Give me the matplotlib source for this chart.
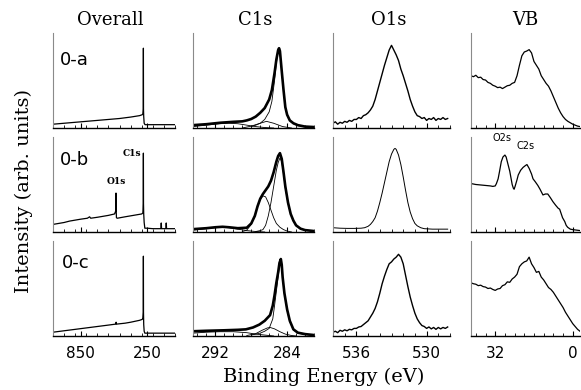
import matplotlib
matplotlib.use("Agg")
import matplotlib.pyplot as plt
from matplotlib.ticker import FixedLocator, MultipleLocator

# ---------------- data (binding energy in eV, intensity in arb. units) -------------
col_titles = ["Overall", "C1s", "O1s", "VB"]
row_labels = ["0-a", "0-b", "0-c"]

# Overall survey spectra
survey_a_be = [1100, 1000, 900, 800, 700, 600, 500, 400, 320, 295, 290, 286, 285, 284, 282, 278, 270, 200, 100, 0]
survey_a_i = [4, 5, 6, 7, 8, 9, 10, 11.5, 13, 14, 15, 20, 84, 20, 12, 5, 3.5, 3.5, 3.5, 3.5]

survey_b_be = [1100, 1050, 1000, 950, 900, 850, 790, 770, 760, 700, 650, 600, 545, 535, 532, 530, 528,
               520, 450, 400, 350, 300, 290, 286, 285, 284, 282, 278, 272, 250, 200, 127, 124, 121,
               82, 79, 76, 0]
survey_b_i = [8, 9, 10, 11.5, 12.5, 13.5, 14.5, 16, 14.5, 15.5, 16.5, 17.5, 19, 22, 41, 22, 15,
              14.5, 16, 17, 18, 19, 20, 30, 83, 30, 19, 10, 4, 4, 3.5, 3.5, 9.5, 3.5,
              3.5, 9.5, 3.5, 3.5]

survey_c_be = [1100, 1000, 900, 800, 700, 600, 535, 531, 528, 450, 400, 320, 295, 290, 286, 285, 284, 282, 278, 272, 0]
survey_c_i = [4, 5.5, 7, 8.5, 10, 11.5, 12.5, 14.5, 12.5, 13.5, 14.5, 16.5, 17.5, 19, 25, 84, 25, 12, 5, 3, 3]

# C1s envelopes and fitted components
c1s_a_be = [294.5, 293, 291.5, 290, 289, 288.5, 288, 287.5, 287, 286.5, 286, 285.7, 285.4, 285.2,
            285.0, 284.9, 284.8, 284.6, 284.4, 284.2, 284.0, 283.7, 283.3, 282.8, 282, 281]
c1s_a_i = [3, 4, 5.5, 6.5, 7, 8, 9.5, 12, 16, 21, 30, 40, 58, 72, 82, 84, 81, 60, 40, 22, 14, 8, 5, 3, 1.5, 1]
c1s_a_main_be = [288, 287.5, 287, 286.5, 286, 285.7, 285.4, 285.2, 285.0, 284.9, 284.8, 284.6, 284.4,
                 284.2, 284.0, 283.7, 283.3, 282.8, 282, 281]
c1s_a_main_i = [1.5, 3, 5, 9, 17, 28, 50, 68, 81, 83, 80, 59, 39, 21, 13.5, 7.5, 4.5, 2.5, 1, 0.5]
c1s_a_c2_be = [289, 288, 287, 286.3, 285.5, 284.5, 283.5]
c1s_a_c2_i = [0, 2, 5, 7, 5, 1.5, 0]
c1s_a_c3_be = [294.5, 293, 291.5, 290.5, 289.5, 288.5, 287.5, 286.5, 285.5]
c1s_a_c3_i = [1.5, 3, 4.5, 5, 4.5, 3, 1.5, 0.5, 0]

c1s_b_be = [294.5, 293, 292, 291.2, 290.5, 289.5, 288.5, 288, 287.6, 287.3, 287.0, 286.7, 286.4, 286.1,
            285.8, 285.5, 285.2, 285.0, 284.8, 284.6, 284.4, 284.2, 283.9, 283.6, 283.3, 283.0, 282.5, 282, 281]
c1s_b_i = [3, 4, 5, 5.5, 5, 4, 4.5, 9, 17, 27, 35, 40, 44, 48, 54, 63, 74, 80, 83, 77, 63, 48, 31, 19, 12, 7,
           3.5, 2, 1]
c1s_b_main_be = [287.5, 287, 286.7, 286.4, 286.1, 285.8, 285.5, 285.2, 285.0, 284.8, 284.6, 284.4, 284.2,
                 283.9, 283.6, 283.3, 283.0, 282.5, 282, 281]
c1s_b_main_i = [0.5, 1.5, 2.5, 7, 17, 31, 48, 65, 73, 78, 74, 61, 46, 30, 18.5, 11.5, 7, 3.5, 2, 1]
c1s_b_c2_be = [289, 288.5, 288, 287.6, 287.3, 287.0, 286.7, 286.4, 286.1, 285.8, 285.5, 285.2, 284.8,
               284.4, 284, 283.5]
c1s_b_c2_i = [0.5, 2, 8, 17, 27, 34, 38, 37, 31, 23, 15, 9, 5, 2.5, 1, 0]
c1s_b_c3_be = [294.5, 293, 292, 291.2, 290.5, 289.5, 288.5, 287.5, 286.5]
c1s_b_c3_i = [2, 3.5, 4.5, 5, 4.5, 3, 1.5, 0.5, 0]

c1s_c_be = [294.5, 293, 291, 289.5, 288.6, 287.8, 287.1, 286.5, 285.9, 285.6, 285.4, 285.2, 285.0,
            284.85, 284.7, 284.6, 284.5, 284.3, 284.0, 283.7, 283.3, 282.8, 282, 281]
c1s_c_i = [5, 5.5, 6, 6.5, 7, 9, 12, 16, 22, 32, 43, 56, 67, 77, 81, 75, 62, 45, 28, 16, 7, 3.5, 2, 1]
c1s_c_main_be = [288, 287, 286.5, 286, 285.6, 285.4, 285.2, 285.0, 284.85, 284.7, 284.6, 284.5, 284.3,
                 284.0, 283.7, 283.3, 282.8, 282, 281]
c1s_c_main_i = [1, 3, 5, 8, 18, 32, 47, 62, 74, 80, 74, 61, 44, 27, 15, 6.5, 3, 1.5, 0.5]
c1s_c_c2_be = [288.5, 287.5, 286.8, 286.2, 285.9, 285.4, 284.8, 284.2, 283.5, 283]
c1s_c_c2_i = [0.5, 2.5, 6, 8.5, 9, 7.5, 4.5, 2, 0.5, 0]
c1s_c_c3_be = [294.5, 293, 291.5, 290, 288.5, 287.5, 286.5, 285.5]
c1s_c_c3_i = [3, 4, 4.5, 4.5, 3.5, 2, 1, 0]

# O1s spectra
o1s_a_be = [538.0, 537.8, 537.6, 537.4, 537.2, 537.0, 536.8, 536.6, 536.4, 536.2, 536.0, 535.8, 535.6,
            535.4, 535.2, 535.0, 534.8, 534.6, 534.4, 534.2, 534.0, 533.8, 533.6, 533.4, 533.2, 533.0,
            532.8, 532.6, 532.4, 532.2, 532.0, 531.8, 531.6, 531.4, 531.2, 531.0, 530.8, 530.6, 530.4,
            530.2, 530.0, 529.8, 529.6, 529.4, 529.2, 529.0, 528.8, 528.6, 528.4, 528.2]
o1s_a_i = [5, 6.5, 4, 6, 5, 7, 6, 8, 7, 9, 9, 11, 10, 13, 14, 16, 19, 23, 30, 39, 48, 57, 66, 74, 82, 87,
           82, 77, 71, 62, 55, 47, 39, 30, 23, 17, 13, 12, 10, 11, 8, 10, 9, 11, 8, 10, 9, 11, 9, 10]

o1s_b_be = [538.0, 537.4, 536.8, 536.2, 535.6, 535.3, 535.0, 534.8, 534.6, 534.4, 534.2, 534.0, 533.8,
            533.6, 533.4, 533.2, 533.0, 532.8, 532.7, 532.6, 532.4, 532.2, 532.0, 531.8, 531.6, 531.4,
            531.2, 531.0, 530.8, 530.5, 530.2, 529.5, 528.2]
o1s_b_i = [4.5, 4, 3.8, 3.8, 4, 4.5, 6, 8, 11, 15, 22, 31, 41, 52, 63, 74, 82, 87, 88, 87, 81, 71, 58, 44,
           31, 21, 14, 9, 6.5, 4.5, 3.5, 3, 3]

o1s_c_be = o1s_a_be
o1s_c_i = [4, 5, 3.5, 6, 5, 6.5, 5.5, 7, 6.5, 8, 8, 9.5, 10, 12, 14, 16, 20, 24, 29, 36, 45, 55, 63, 70, 76,
           78, 81, 83, 86, 83, 76, 64, 52, 41, 32, 24, 18, 14, 11, 10, 8, 9.5, 7.5, 9, 7, 9, 7.5, 9, 8, 9.5]

# Valence band spectra
vb_a_be = [42, 41, 40, 39, 38, 37, 36, 35, 34, 33, 32, 31, 30, 29, 28, 27, 26, 25, 24, 23, 22, 21, 20, 19,
           18, 17, 16, 15, 14, 13, 12, 11, 10, 9, 8, 7, 6, 5, 4, 3, 2, 1, 0, -1, -2, -3]
vb_a_i = [55, 54, 55.5, 53, 53.5, 51, 50.5, 48, 47, 45, 44, 42.5, 43, 41.5, 43, 44.5, 45, 47, 48, 55, 66,
          76, 80, 81, 82.5, 79, 70, 66, 62, 55, 51, 47, 44, 39, 33, 27, 21, 16, 12, 9, 7, 5.5, 4, 3, 2, 1.5]

vb_b_be = [42, 40, 38, 36, 34, 33, 32, 31.5, 30.8, 30.2, 29.5, 28.8, 28, 27.5, 27, 26.5, 26, 25.5, 25,
           24.5, 24.2, 23.8, 23, 22.5, 21.5, 20.5, 19.5, 18.9, 18, 17, 16.4, 15.5, 14.4, 13.5, 12.3, 11.3,
           10.3, 9.2, 8.2, 7, 6, 5.4, 5, 4.2, 3.3, 2.7, 2.1, 1, 0, -1.5, -3]
vb_b_i = [51, 50, 49.5, 49, 48.5, 48, 48.5, 51, 56, 64, 74, 79, 81, 79, 74, 69, 64, 57, 50, 46, 45, 48,
          55, 60, 65, 68, 70, 71, 67, 61, 56, 53, 49, 45, 39, 40, 40, 36, 32, 28, 25, 24, 21, 15, 11, 7,
          5, 3, 2.5, 2, 1.5]

vb_c_be = vb_a_be
vb_c_i = [56, 55, 54.5, 53, 53.5, 52, 51.5, 50, 50.5, 49, 48, 49.5, 50, 53, 54, 57, 56.5, 60, 62, 65, 73,
          76, 78, 79, 83, 76, 72, 67, 68, 62, 59, 55, 51, 49, 46, 42, 38, 34, 30, 25, 21, 17, 13, 10, 7, 5]

# ---------------- layout ----------------
W, H = 581, 390
fig = plt.figure(figsize=(W / 100, H / 100), dpi=100)

col_px = [(53, 175), (193, 314), (333, 450), (471, 580)]
row_bottom_px = [128, 232, 336]
ax_h_px = 95

xlims = [(1100, 0), (294.5, 281), (538, 528), (42, -3)]
major_ticks = [[850, 250], [292, 284], [536, 530], [32, 0]]
minor_step = [100, 1, 1, 4]

survey = [(survey_a_be, survey_a_i), (survey_b_be, survey_b_i), (survey_c_be, survey_c_i)]
c1s_env = [(c1s_a_be, c1s_a_i), (c1s_b_be, c1s_b_i), (c1s_c_be, c1s_c_i)]
c1s_comp = [
    [(c1s_a_main_be, c1s_a_main_i), (c1s_a_c2_be, c1s_a_c2_i), (c1s_a_c3_be, c1s_a_c3_i)],
    [(c1s_b_main_be, c1s_b_main_i), (c1s_b_c2_be, c1s_b_c2_i), (c1s_b_c3_be, c1s_b_c3_i)],
    [(c1s_c_main_be, c1s_c_main_i), (c1s_c_c2_be, c1s_c_c2_i), (c1s_c_c3_be, c1s_c_c3_i)],
]
o1s = [(o1s_a_be, o1s_a_i), (o1s_b_be, o1s_b_i), (o1s_c_be, o1s_c_i)]
vb = [(vb_a_be, vb_a_i), (vb_b_be, vb_b_i), (vb_c_be, vb_c_i)]

axes = {}
for r in range(3):
    for c in range(4):
        x0, x1 = col_px[c]
        b = row_bottom_px[r]
        ax = fig.add_axes([x0 / W, 1 - b / H, (x1 - x0) / W, ax_h_px / H])
        ax.set_xlim(*xlims[c])
        ax.set_ylim(0, 100)
        for s in ("top", "right"):
            ax.spines[s].set_visible(False)
        ax.spines["left"].set_color("#8a8a8a")
        ax.spines["left"].set_linewidth(0.8)
        ax.spines["bottom"].set_color("black")
        ax.spines["bottom"].set_linewidth(1.0)
        ax.set_yticks([])
        ax.xaxis.set_major_locator(FixedLocator(major_ticks[c]))
        ax.xaxis.set_minor_locator(MultipleLocator(minor_step[c]))
        ax.tick_params(axis="x", which="major", direction="in", length=3.5, width=0.8,
                       labelsize=11, pad=7)
        ax.tick_params(axis="x", which="minor", direction="in", length=2, width=0.6)
        if r < 2:
            ax.tick_params(axis="x", labelbottom=False)
        axes[(r, c)] = ax

lc = "black"
for r in range(3):
    ax = axes[(r, 0)]
    ax.plot(survey[r][0], survey[r][1], color=lc, lw=0.9)
    ax = axes[(r, 1)]
    for be, it in c1s_comp[r]:
        ax.plot(be, it, color=lc, lw=0.6)
    ax.plot(c1s_env[r][0], c1s_env[r][1], color=lc, lw=1.9)
    ax = axes[(r, 2)]
    ax.plot(o1s[r][0], o1s[r][1], color=lc, lw=0.7 if r == 1 else 1.0)
    ax = axes[(r, 3)]
    ax.plot(vb[r][0], vb[r][1], color=lc, lw=0.9)

# column titles
title_x = [110, 255, 389, 525]
for t, x in zip(col_titles, title_x):
    fig.text(x / W, 1 - 20 / H, t, ha="center", va="center", family="DejaVu Serif", fontsize=13)

# row labels
label_pos = [(60, 60), (60, 160), (62, 263)]
for lab, (x, y) in zip(row_labels, label_pos):
    fig.text(x / W, 1 - y / H, lab, ha="left", va="center", family="DejaVu Sans", fontsize=13)

# peak annotations
fig.text(141 / W, 1 - 154 / H, "C1s", ha="right", va="center", family="DejaVu Serif",
         fontsize=6.5, fontweight="bold")
fig.text(116 / W, 1 - 182 / H, "O1s", ha="center", va="center", family="DejaVu Serif",
         fontsize=6.5, fontweight="bold")
fig.text(502 / W, 1 - 138 / H, "O2s", ha="center", va="center", family="DejaVu Sans", fontsize=7)
fig.text(526 / W, 1 - 146 / H, "C2s", ha="center", va="center", family="DejaVu Sans", fontsize=7)

# axis labels
fig.text(324 / W, 1 - 377 / H, "Binding Energy (eV)", ha="center", va="center",
         family="DejaVu Serif", fontsize=14)
fig.text(24 / W, 1 - 191 / H, "Intensity (arb. units)", ha="center", va="center",
         rotation=90, family="DejaVu Serif", fontsize=14)

fig.savefig("out.png", dpi=100)
